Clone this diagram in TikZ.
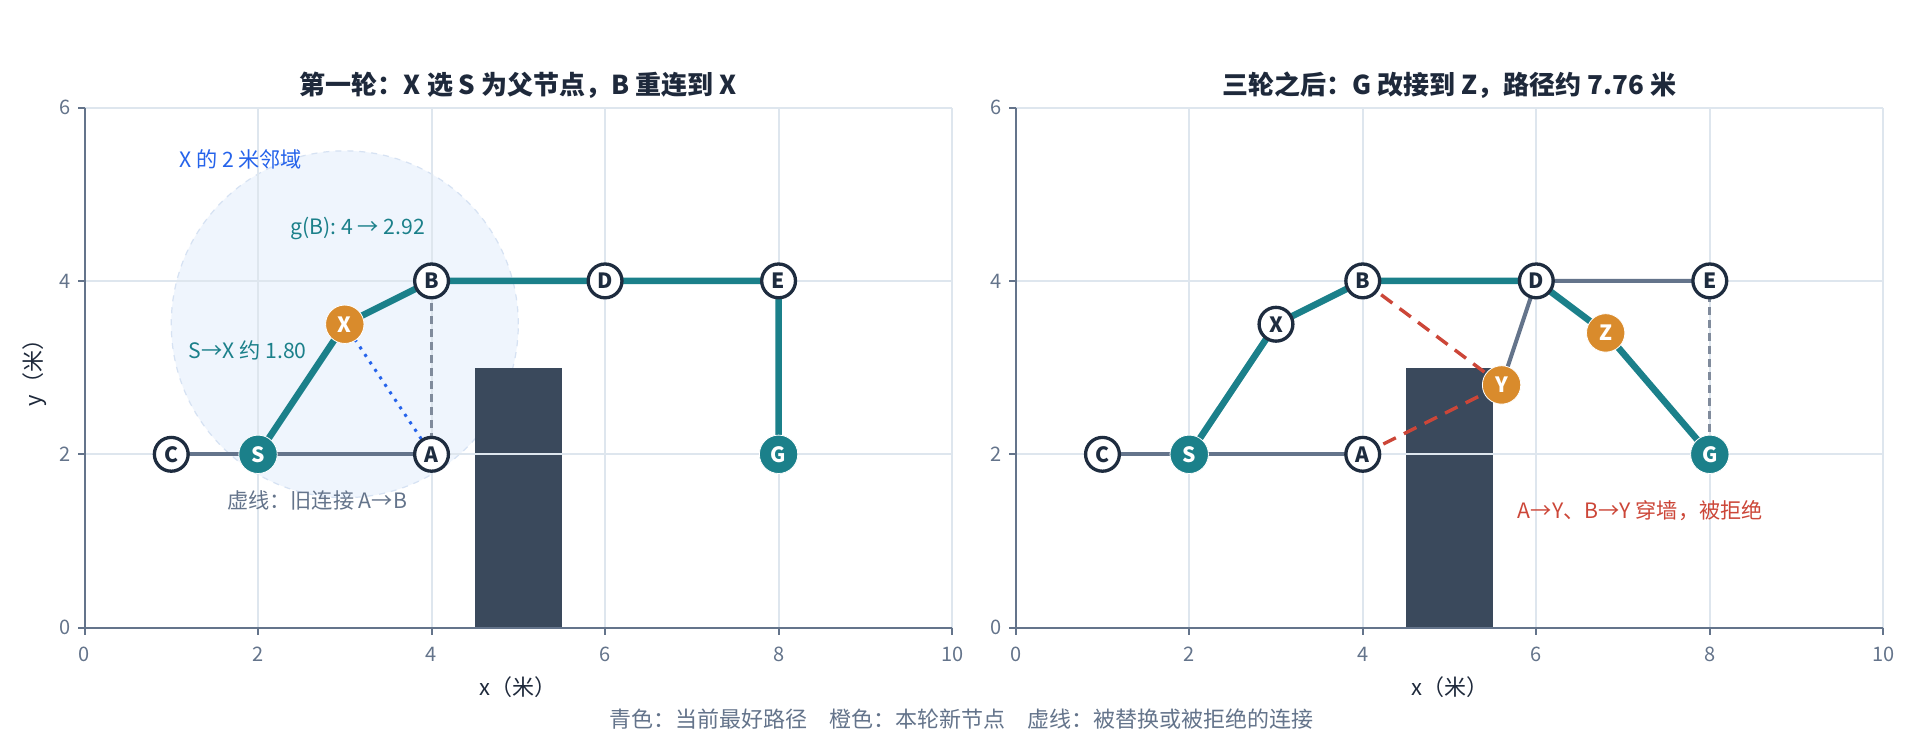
\documentclass[tikz,border=0pt]{standalone}
\usepackage{fontspec}
\setmainfont{Noto Sans CJK SC}
\usetikzlibrary{positioning}

\definecolor{tealc}{RGB}{27,128,138}
\definecolor{orangec}{RGB}{217,139,44}
\definecolor{navyc}{RGB}{30,44,63}
\definecolor{wallc}{RGB}{58,73,92}
\definecolor{edgec}{RGB}{100,116,139}
\definecolor{dashc}{RGB}{128,139,156}
\definecolor{gridc}{RGB}{222,230,238}
\definecolor{redc}{RGB}{204,70,56}
\definecolor{bluec}{RGB}{37,99,235}
\definecolor{halofill}{RGB}{239,245,253}
\definecolor{haloline}{RGB}{214,226,243}
\definecolor{titlec}{RGB}{30,41,59}

\tikzset{
  oldnode/.style={circle, draw=navyc, line width=1.65pt, fill=white, text=navyc,
    minimum size=16.9pt, inner sep=0pt, font=\bfseries\fontsize{10.5}{10.5}\selectfont},
  endnode/.style={circle, draw=white, line width=0.4pt, fill=tealc, text=white,
    minimum size=19.2pt, inner sep=0pt, font=\bfseries\fontsize{10.5}{10.5}\selectfont},
  newnode/.style={endnode, fill=orangec},
  bestpath/.style={draw=tealc, line width=3.3pt},
  treeedge/.style={draw=edgec, line width=2pt},
  oldlink/.style={draw=dashc, line width=1.5pt, dash pattern=on 4pt off 2.5pt},
  rejected/.style={draw=redc, line width=1.7pt, dash pattern=on 7pt off 4.5pt},
  radiuslink/.style={draw=bluec, line width=1.5pt, dash pattern=on 1.5pt off 3pt},
  note/.style={font=\fontsize{10.6}{10.6}\selectfont, inner sep=0pt},
  ticklabel/.style={text=edgec, font=\fontsize{10}{10}\selectfont, inner sep=0pt},
  axistitle/.style={text=titlec, font=\fontsize{11}{11}\selectfont, inner sep=0pt},
  paneltitle/.style={text=titlec, font=\bfseries\fontsize{13}{13}\selectfont, inner sep=0pt},
  wall/.style={fill=wallc},
}

% grid, axes and ticks of one panel
\newcommand\plotframe{%
  \foreach \gx in {2,4,...,10} \draw[gridc, line width=1pt] (\gx,0) -- (\gx,6);
  \foreach \gy in {2,4,6} \draw[gridc, line width=1pt] (0,\gy) -- (10,\gy);
  \draw[edgec, line width=1pt] (0,6) -- (0,0) -- (10,0);
  \foreach \gx in {0,2,...,10} {
    \draw[edgec, line width=1pt] (\gx,0) -- (\gx,-0.08);
    \node[ticklabel] at (\gx,-0.31) {\gx};
  }
  \foreach \gy in {0,2,4,6} {
    \draw[edgec, line width=1pt] (0,\gy) -- (-0.08,\gy);
    \node[ticklabel, anchor=east] at (-0.16,\gy) {\gy};
  }
  \node[axistitle] at (5,-0.68) {x（米）};
}

\begin{document}
\begin{tikzpicture}[x=1pt,y=1pt]
\useasboundingbox[fill=white] (0,0) rectangle (960,368);

% left panel: first round
\begin{scope}[xshift=42.25pt, yshift=54.15pt, x=43.38pt, y=43.35pt]
  \fill[halofill] (3,3.5) circle[radius=2];
  \draw[haloline, line width=0.6pt, dashed] (3,3.5) circle[radius=2];
  \fill[wall] (4.5,0) rectangle (5.5,3);
  \plotframe
  \node[axistitle, rotate=90] at (-0.57,3) {y（米）};
  \node[paneltitle] at (5,6.26) {第一轮：X 选 S 为父节点，B 重连到 X};

  \coordinate (lC) at (1,2);
  \coordinate (lS) at (2,2);
  \coordinate (lA) at (4,2);
  \coordinate (lX) at (3,3.5);
  \coordinate (lB) at (4,4);
  \coordinate (lD) at (6,4);
  \coordinate (lE) at (8,4);
  \coordinate (lG) at (8,2);

  \path[treeedge] (lC) -- (lS) -- (lA);
  \path[oldlink] (lA) -- (lB);
  \path[radiuslink] (lX) -- (lA);
  \path[bestpath] (lS) -- (lX) -- (lB) -- (lD) -- (lE) -- (lG);

  \node[oldnode] (nC) at (lC) {C};
  \node[endnode] (nS) at (lS) {S};
  \node[oldnode] (nA) at (lA) {A};
  \node[newnode] (nX) at (lX) {X};
  \node[oldnode] (nB) at (lB) {B};
  \node[oldnode] (nD) at (lD) {D};
  \node[oldnode] (nE) at (lE) {E};
  \node[endnode] (nG) at (lG) {G};

  \node[note, text=bluec] (halo) at (1.8,5.4) {X 的 2 米邻域};
  \node[note, text=tealc] (gain) at (3.15,4.6) {g(B): 4 → 2.92};
  \node[note, text=tealc] (cost) at (1.88,3.2) {S→X 约 1.80};
  \node[note, text=edgec] (hint) at (2.68,1.47) {虚线：旧连接 A→B};
\end{scope}

% right panel: after three rounds
\begin{scope}[xshift=507.85pt, yshift=54.15pt, x=43.38pt, y=43.35pt]
  \fill[wall] (4.5,0) rectangle (5.5,3);
  \plotframe
  \node[paneltitle] at (5,6.26) {三轮之后：G 改接到 Z，路径约 7.76 米};

  \coordinate (rC) at (1,2);
  \coordinate (rS) at (2,2);
  \coordinate (rA) at (4,2);
  \coordinate (rX) at (3,3.5);
  \coordinate (rB) at (4,4);
  \coordinate (rD) at (6,4);
  \coordinate (rE) at (8,4);
  \coordinate (rY) at (5.6,2.8);
  \coordinate (rZ) at (6.8,3.4);
  \coordinate (rG) at (8,2);

  \path[treeedge] (rC) -- (rS) -- (rA);
  \path[treeedge] (rE) -- (rD) -- (rY);
  \path[oldlink] (rE) -- (rG);
  \path[rejected] (rA) -- (rY);
  \path[rejected] (rB) -- (rY);
  \path[bestpath] (rS) -- (rX) -- (rB) -- (rD) -- (rZ) -- (rG);

  \node[oldnode] (mC) at (rC) {C};
  \node[endnode] (mS) at (rS) {S};
  \node[oldnode] (mA) at (rA) {A};
  \node[oldnode] (mX) at (rX) {X};
  \node[oldnode] (mB) at (rB) {B};
  \node[oldnode] (mD) at (rD) {D};
  \node[oldnode] (mE) at (rE) {E};
  \node[newnode] (mY) at (rY) {Y};
  \node[newnode] (mZ) at (rZ) {Z};
  \node[endnode] (mG) at (rG) {G};

  \node[note, text=redc] (block) at (7.2,1.35) {A→Y、B→Y 穿墙，被拒绝};
\end{scope}

\node[text=edgec, font=\fontsize{11}{11}\selectfont, inner sep=0pt] (legend) at (480.5,8.5)
  {青色：当前最好路径\quad 橙色：本轮新节点\quad 虚线：被替换或被拒绝的连接};
\end{tikzpicture}
\end{document}
